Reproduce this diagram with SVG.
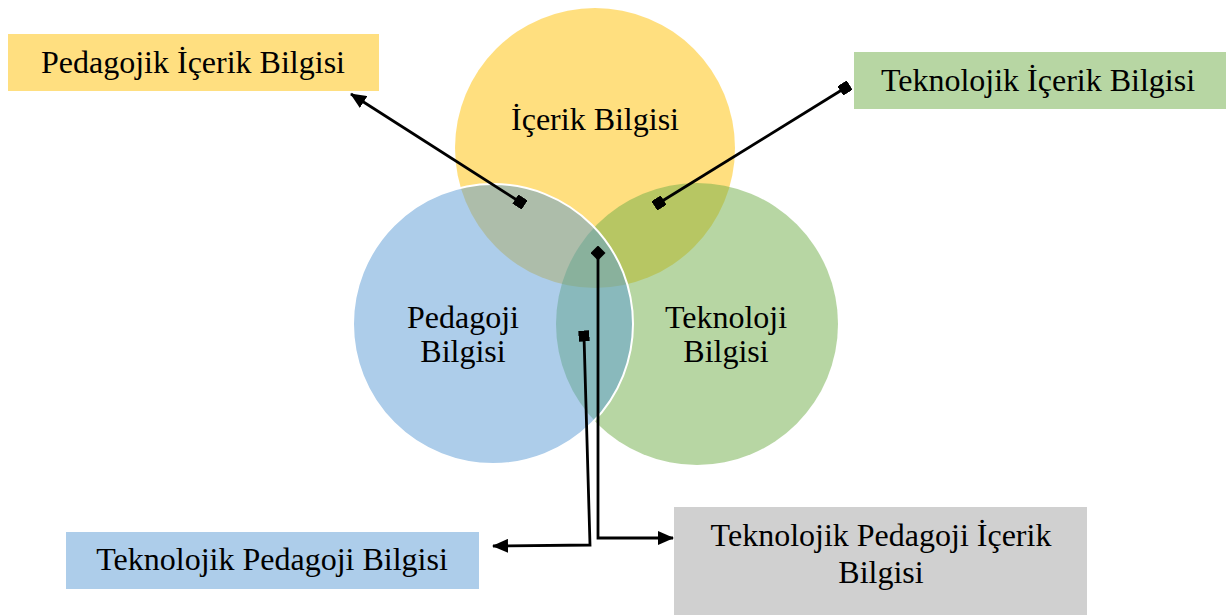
<svg xmlns="http://www.w3.org/2000/svg" width="1228" height="615" viewBox="0 0 1228 615">
  <style>
    .lbl { font-family: "Liberation Serif", "Times New Roman", serif; font-size: 32px; fill: #000; text-anchor: middle; }
    .conn { fill: none; stroke: #000; stroke-width: 2.8; }
  </style>
  <defs>
    <marker id="arrow" viewBox="0 0 16 14" refX="15" refY="7" markerWidth="16" markerHeight="14" markerUnits="userSpaceOnUse" orient="auto">
      <path d="M0,0 L16,7 L0,14 Z" fill="#000"/>
    </marker>
    <marker id="sq" viewBox="0 0 11 11" refX="5.5" refY="5.5" markerWidth="11" markerHeight="11" markerUnits="userSpaceOnUse" orient="auto">
      <rect x="0" y="0" width="11" height="11" fill="#000"/>
    </marker>
    <marker id="dia" viewBox="0 0 15 15" refX="7.5" refY="7.5" markerWidth="15" markerHeight="15" markerUnits="userSpaceOnUse" orient="0">
      <path d="M7.5,0 L15,7.5 L7.5,15 L0,7.5 Z" fill="#000"/>
    </marker>
  </defs>
  <rect width="1228" height="615" fill="#fff"/>

  <g id="icerik">
    <circle cx="595" cy="148" r="140" fill="#FFC000" fill-opacity="0.5"/>
  </g>
  <g id="teknoloji">
    <circle cx="697" cy="324" r="141" fill="#70AD47" fill-opacity="0.5"/>
  </g>
  <g id="pedagoji">
    <circle cx="493" cy="324" r="140" fill="#5B9BD5" fill-opacity="0.5" stroke="#fff" stroke-width="2"/>
  </g>

  <g id="circle-labels">
    <text class="lbl" x="595" y="130">İçerik Bilgisi</text>
    <text class="lbl" x="463" y="328">Pedagoji</text>
    <text class="lbl" x="463" y="362">Bilgisi</text>
    <text class="lbl" x="726" y="328">Teknoloji</text>
    <text class="lbl" x="726" y="362">Bilgisi</text>
  </g>

  <g id="pib">
    <rect x="8" y="34" width="371" height="57" fill="#FFDF80"/>
    <text class="lbl" x="193" y="73">Pedagojik İçerik Bilgisi</text>
  </g>
  <g id="tib">
    <rect x="854" y="52" width="372" height="57" fill="#B7D6A3"/>
    <text class="lbl" x="1038" y="91">Teknolojik İçerik Bilgisi</text>
  </g>
  <g id="tpb">
    <rect x="66" y="532" width="413" height="57" fill="#ADCDEA"/>
    <text class="lbl" x="272" y="570">Teknolojik Pedagoji Bilgisi</text>
  </g>
  <g id="tpib">
    <rect x="674" y="507" width="413" height="108" fill="#D0D0D0"/>
    <text class="lbl" x="881" y="546">Teknolojik Pedagoji İçerik</text>
    <text class="lbl" x="881" y="583">Bilgisi</text>
  </g>

  <g id="connectors">
    <path class="conn" d="M520,202 L351,94" marker-start="url(#sq)" marker-end="url(#arrow)"/>
    <path class="conn" d="M659,203 L845,88" marker-start="url(#sq)" marker-end="url(#sq)"/>
    <path class="conn" d="M598,253 L598,538 L673,538" marker-start="url(#dia)" marker-end="url(#arrow)"/>
    <path class="conn" d="M584,336 L590,545 L493,546" marker-start="url(#sq)" marker-end="url(#arrow)"/>
  </g>
</svg>
